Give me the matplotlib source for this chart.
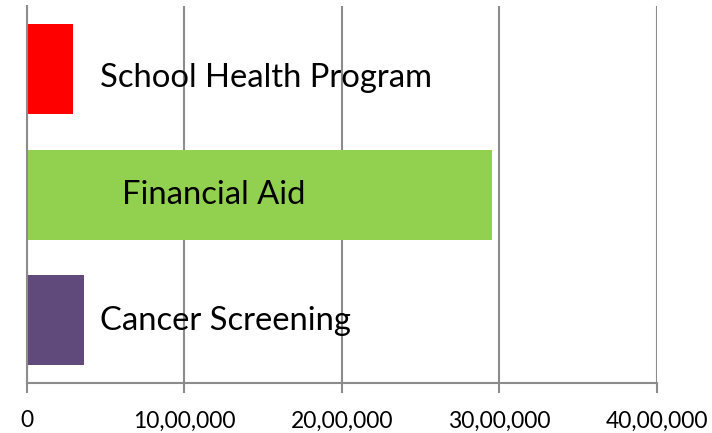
import matplotlib.pyplot as plt
from matplotlib.ticker import FuncFormatter

# categories bottom to top, as drawn
categories = ['Cancer Screening', 'Financial Aid', 'School Health Program']
values = [362000, 2956000, 292000]
colors = ['#604a7b', '#92d050', '#ff0000']
label_x = [464000, 604000, 464000]
label_y = [-0.08, 0.925, 1.857]

ticks = [0, 1000000, 2000000, 3000000, 4000000]


def indian_fmt(v, pos=None):
    v = int(round(v))
    if v == 0:
        return '0'
    s = str(v)
    last3 = s[-3:]
    rest = s[:-3]
    parts = []
    while len(rest) > 2:
        parts.insert(0, rest[-2:])
        rest = rest[:-2]
    if rest:
        parts.insert(0, rest)
    return ','.join(parts + [last3])


fig = plt.figure(figsize=(7.12, 4.33), dpi=100)
ax = fig.add_axes([27 / 712, (433 - 383.3) / 433, (656.7 - 27) / 712, (383.3 - 6) / 433])

ypos = range(len(categories))
ax.barh(ypos, values, height=0.715, color=colors, zorder=2)

for name, lx, ly in zip(categories, label_x, label_y):
    ax.text(lx, ly, name, ha='left', va='baseline', fontsize=23.6,
            family='Lato', color='black', zorder=3)

ax.set_xlim(0, 4000000)
ax.set_ylim(-0.5, 2.5)
ax.set_xticks(ticks)
ax.xaxis.set_major_formatter(FuncFormatter(indian_fmt))
ax.set_yticks([])
ax.grid(axis='x', color='#8c8c8c', linewidth=1.5, zorder=1)
ax.set_axisbelow(True)

for side in ['top', 'right']:
    ax.spines[side].set_visible(False)
for side in ['left', 'bottom']:
    ax.spines[side].set_color('#8c8c8c')
    ax.spines[side].set_linewidth(1.5)

ax.tick_params(axis='x', length=7, width=1.5, color='#8c8c8c', pad=12.5,
               labelsize=16.5)
for lab in ax.get_xticklabels():
    lab.set_family('Lato')

fig.savefig('out.png', dpi=100, facecolor='white')
